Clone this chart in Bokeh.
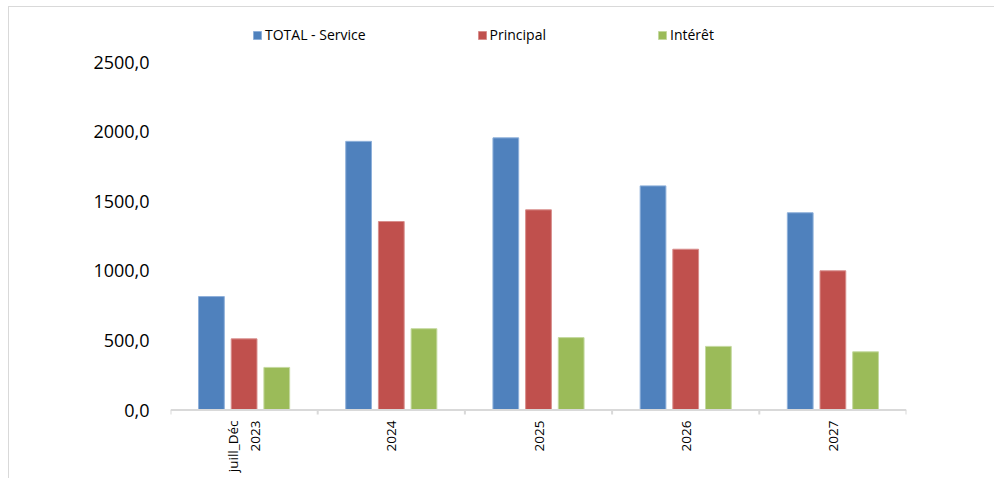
from bokeh.plotting import figure
from bokeh.models import (ColumnDataSource, FactorRange, Range1d, FixedTicker, Legend,
                          LegendItem, Span)
from bokeh.transform import dodge
from bokeh.embed import file_html
from bokeh.resources import INLINE
import math

categories = ["juill_Déc\n2023", "2024", "2025", "2026", "2027"]
total_service = [815, 1930, 1955, 1610, 1417]
principal = [511, 1354, 1438, 1155, 1000]
interet = [306, 584, 520, 457, 418]
series_names = ["TOTAL - Service", "Principal", "Intérêt"]
series_colors = ["#4F81BD", "#C0504D", "#9BBB59"]
outline_colors = ["#8EB0DA", "#D88E8C", "#C4D99F"]
y_ticks = [0, 500, 1000, 1500, 2000, 2500]
y_tick_labels = ["0,0", "500,0", "1000,0", "1500,0", "2000,0", "2500,0"]

FONT = "Open Sans"

src = ColumnDataSource(dict(cat=categories, total=total_service, principal=principal,
                            interet=interet))

p = figure(x_range=FactorRange(*categories, range_padding=0, factor_padding=0),
           y_range=Range1d(-32.3, 2812.5),
           frame_width=736, frame_height=396,
           min_border_left=161, min_border_right=88, min_border_top=11, min_border_bottom=64,
           output_backend="svg", toolbar_location=None, tools="")
p.styles = {"margin-left": "8px", "margin-top": "6px",
            "border-left": "1px solid #D9D9D9", "border-top": "1px solid #D9D9D9"}
p.outline_line_color = None
p.xgrid.grid_line_color = None
p.ygrid.grid_line_color = None
p.background_fill_color = "white"
p.border_fill_color = "white"

keys = ["total", "principal", "interet"]
offsets = [-0.222, 0.0, 0.222]
renderers = []
for k, off, c, oc in zip(keys, offsets, series_colors, outline_colors):
    r = p.vbar(x=dodge("cat", off, range=p.x_range), top=k, bottom=0, width=0.175,
               source=src, fill_color=c, line_color=oc, line_width=1)
    renderers.append(r)

# category axis line and boundary ticks
p.add_layout(Span(location=0, dimension="width", line_color="#D9D9D9", line_width=2))
bounds = list(range(len(categories) + 1))
p.segment(x0=bounds, x1=bounds, y0=[0] * len(bounds), y1=[-40] * len(bounds),
          line_color="#D9D9D9", line_width=2)

xa = p.xaxis[0]
xa.axis_line_color = None
xa.major_tick_line_color = None
xa.minor_tick_line_color = None
xa.major_tick_in = 0
xa.major_tick_out = 0
xa.major_label_orientation = math.pi / 2
xa.major_label_text_font = FONT
xa.major_label_text_font_size = "13.5px"
xa.major_label_text_color = "black"
xa.major_label_standoff = 6

ya = p.yaxis[0]
ya.ticker = FixedTicker(ticks=y_ticks)
ya.major_label_overrides = {t: l for t, l in zip(y_ticks, y_tick_labels)}
ya.axis_line_color = None
ya.major_tick_line_color = None
ya.minor_tick_line_color = None
ya.major_tick_in = 0
ya.major_tick_out = 0
ya.major_label_text_font = FONT
ya.major_label_text_font_size = "18px"
ya.major_label_text_color = "black"
ya.major_label_standoff = 21

legend = Legend(items=[LegendItem(label=n, renderers=[r]) for n, r in zip(series_names, renderers)],
                orientation="horizontal", location=(82, 370), spacing=111,
                glyph_width=10, glyph_height=10, label_standoff=3,
                label_text_font=FONT, label_text_font_size="14px", label_text_color="black",
                label_height=16, padding=0, margin=0,
                background_fill_alpha=0, border_line_color=None)
p.add_layout(legend)

open("out.html", "w").write(file_html(p, INLINE))
